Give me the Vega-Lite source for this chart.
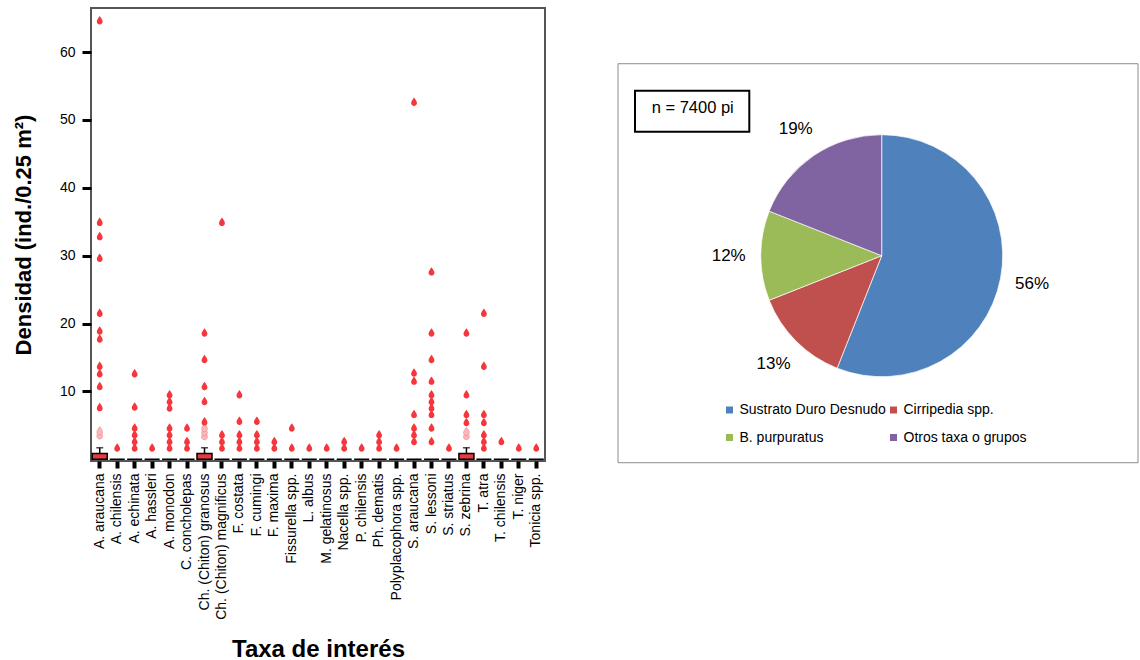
{
  "$schema": "https://vega.github.io/schema/vega-lite/v6.json",
  "background": "white",
  "padding": {"left": 11, "top": 7, "right": 0, "bottom": 0},
  "config": {
    "font": "Liberation Sans",
    "concat": {"spacing": 71},
    "axisX": {"labelAngle": -90, "labelFontSize": 14, "labelColor": "black", "tickSize": 7, "tickWidth": 4, "tickColor": "black", "domain": false, "grid": false, "labelPadding": 5, "titleFontSize": 24, "titleFontWeight": "bold", "titleColor": "black", "titlePadding": 18},
    "axisY": {"labelFontSize": 14, "labelColor": "black", "tickSize": 9, "tickWidth": 3, "tickColor": "black", "domain": false, "grid": false, "labelPadding": 7, "titleFontSize": 22, "titleFontWeight": "bold", "titleColor": "black", "titlePadding": 24}
  },
  "datasets": {
    "pts": [
      {"t": "A. araucana", "v": 64.5}, {"t": "A. araucana", "v": 34.8}, {"t": "A. araucana", "v": 32.7}, {"t": "A. araucana", "v": 29.5}, {"t": "A. araucana", "v": 21.4}, {"t": "A. araucana", "v": 18.8}, {"t": "A. araucana", "v": 17.6}, {"t": "A. araucana", "v": 13.6}, {"t": "A. araucana", "v": 12.5}, {"t": "A. araucana", "v": 10.6}, {"t": "A. araucana", "v": 7.5},
      {"t": "A. chilensis", "v": 1.56},
      {"t": "A. echinata", "v": 12.5}, {"t": "A. echinata", "v": 7.6}, {"t": "A. echinata", "v": 4.5}, {"t": "A. echinata", "v": 3.5}, {"t": "A. echinata", "v": 2.5}, {"t": "A. echinata", "v": 1.56},
      {"t": "A. hassleri", "v": 1.56},
      {"t": "A. monodon", "v": 9.4}, {"t": "A. monodon", "v": 8.4}, {"t": "A. monodon", "v": 7.45}, {"t": "A. monodon", "v": 4.5}, {"t": "A. monodon", "v": 3.5}, {"t": "A. monodon", "v": 2.5}, {"t": "A. monodon", "v": 1.56},
      {"t": "C. concholepas", "v": 4.5}, {"t": "C. concholepas", "v": 2.5}, {"t": "C. concholepas", "v": 1.56},
      {"t": "Ch. (Chiton) granosus", "v": 18.5}, {"t": "Ch. (Chiton) granosus", "v": 14.6}, {"t": "Ch. (Chiton) granosus", "v": 10.6}, {"t": "Ch. (Chiton) granosus", "v": 8.4}, {"t": "Ch. (Chiton) granosus", "v": 5.4},
      {"t": "Ch. (Chiton) magnificus", "v": 34.8}, {"t": "Ch. (Chiton) magnificus", "v": 3.5}, {"t": "Ch. (Chiton) magnificus", "v": 2.5}, {"t": "Ch. (Chiton) magnificus", "v": 1.56},
      {"t": "F. costata", "v": 9.4}, {"t": "F. costata", "v": 5.5}, {"t": "F. costata", "v": 3.5}, {"t": "F. costata", "v": 2.5}, {"t": "F. costata", "v": 1.56},
      {"t": "F. cumingi", "v": 5.5}, {"t": "F. cumingi", "v": 3.5}, {"t": "F. cumingi", "v": 2.5}, {"t": "F. cumingi", "v": 1.56},
      {"t": "F. maxima", "v": 2.5}, {"t": "F. maxima", "v": 1.56},
      {"t": "Fissurella spp.", "v": 4.5}, {"t": "Fissurella spp.", "v": 1.56},
      {"t": "L. albus", "v": 1.56},
      {"t": "M. gelatinosus", "v": 1.56},
      {"t": "Nacella spp.", "v": 2.5}, {"t": "Nacella spp.", "v": 1.56},
      {"t": "P. chilensis", "v": 1.56},
      {"t": "Ph. dematis", "v": 3.5}, {"t": "Ph. dematis", "v": 2.5}, {"t": "Ph. dematis", "v": 1.56},
      {"t": "Polyplacophora spp.", "v": 1.56},
      {"t": "S. araucana", "v": 52.5}, {"t": "S. araucana", "v": 12.6}, {"t": "S. araucana", "v": 11.4}, {"t": "S. araucana", "v": 6.5}, {"t": "S. araucana", "v": 4.5}, {"t": "S. araucana", "v": 3.5}, {"t": "S. araucana", "v": 2.5},
      {"t": "S. lessoni", "v": 27.5}, {"t": "S. lessoni", "v": 18.5}, {"t": "S. lessoni", "v": 14.6}, {"t": "S. lessoni", "v": 11.4}, {"t": "S. lessoni", "v": 9.4}, {"t": "S. lessoni", "v": 8.4}, {"t": "S. lessoni", "v": 7.45}, {"t": "S. lessoni", "v": 6.5}, {"t": "S. lessoni", "v": 4.5}, {"t": "S. lessoni", "v": 2.5},
      {"t": "S. striatus", "v": 1.56},
      {"t": "S. zebrina", "v": 18.5}, {"t": "S. zebrina", "v": 9.4}, {"t": "S. zebrina", "v": 6.5}, {"t": "S. zebrina", "v": 5.3},
      {"t": "T. atra", "v": 21.4}, {"t": "T. atra", "v": 13.6}, {"t": "T. atra", "v": 6.5}, {"t": "T. atra", "v": 5.3}, {"t": "T. atra", "v": 3.5}, {"t": "T. atra", "v": 2.5}, {"t": "T. atra", "v": 1.56},
      {"t": "T. chilensis", "v": 2.5},
      {"t": "T. niger", "v": 1.56},
      {"t": "Tonicia spp.", "v": 1.56}
    ],
    "pale": [
      {"t": "A. araucana", "v": 3.4}, {"t": "A. araucana", "v": 4.0},
      {"t": "Ch. (Chiton) granosus", "v": 3.3}, {"t": "Ch. (Chiton) granosus", "v": 3.9}, {"t": "Ch. (Chiton) granosus", "v": 4.5},
      {"t": "S. zebrina", "v": 3.3}, {"t": "S. zebrina", "v": 3.9}
    ],
    "boxes": [
      {"t": "A. araucana", "q1": 0, "q3": 0.85}, {"t": "A. chilensis", "q1": 0, "q3": 0}, {"t": "A. echinata", "q1": 0, "q3": 0}, {"t": "A. hassleri", "q1": 0, "q3": 0}, {"t": "A. monodon", "q1": 0, "q3": 0}, {"t": "C. concholepas", "q1": 0, "q3": 0}, {"t": "Ch. (Chiton) granosus", "q1": 0, "q3": 0.85}, {"t": "Ch. (Chiton) magnificus", "q1": 0, "q3": 0}, {"t": "F. costata", "q1": 0, "q3": 0}, {"t": "F. cumingi", "q1": 0, "q3": 0}, {"t": "F. maxima", "q1": 0, "q3": 0}, {"t": "Fissurella spp.", "q1": 0, "q3": 0}, {"t": "L. albus", "q1": 0, "q3": 0}, {"t": "M. gelatinosus", "q1": 0, "q3": 0}, {"t": "Nacella spp.", "q1": 0, "q3": 0}, {"t": "P. chilensis", "q1": 0, "q3": 0}, {"t": "Ph. dematis", "q1": 0, "q3": 0}, {"t": "Polyplacophora spp.", "q1": 0, "q3": 0}, {"t": "S. araucana", "q1": 0, "q3": 0}, {"t": "S. lessoni", "q1": 0, "q3": 0}, {"t": "S. striatus", "q1": 0, "q3": 0}, {"t": "S. zebrina", "q1": 0, "q3": 0.85}, {"t": "T. atra", "q1": 0, "q3": 0}, {"t": "T. chilensis", "q1": 0, "q3": 0}, {"t": "T. niger", "q1": 0, "q3": 0}, {"t": "Tonicia spp.", "q1": 0, "q3": 0}
    ],
    "whisk": [
      {"t": "A. araucana", "q3": 0.85, "w": 1.7}, {"t": "Ch. (Chiton) granosus", "q3": 0.85, "w": 1.7}, {"t": "S. zebrina", "q3": 0.85, "w": 1.7}
    ],
    "pie": [
      {"ord": 1, "cat": "Sustrato Duro Desnudo", "pct": 56, "lbl": "56%"},
      {"ord": 2, "cat": "Cirripedia spp.", "pct": 13, "lbl": "13%"},
      {"ord": 3, "cat": "B. purpuratus", "pct": 12, "lbl": "12%"},
      {"ord": 4, "cat": "Otros taxa o grupos", "pct": 19, "lbl": "19%"}
    ],
    "frame": [
      {"x1": 0, "x2": 1, "y1": 0.123, "y2": 1.0038}
    ],
    "note": [
      {"x1": 0.0327, "x2": 0.2525, "y1": 0.1826, "y2": 0.2731, "tx": 0.1437, "ty": 0.2216, "label": "n = 7400 pi"}
    ]
  },
  "hconcat": [
    {
      "width": 454,
      "height": 453,
      "view": {"stroke": "#555555", "strokeWidth": 2},
      "encoding": {
        "x": {
          "field": "t", "type": "nominal", "sort": null, "title": "Taxa de interés",
          "scale": {"paddingInner": 0, "paddingOuter": 0, "domain": ["A. araucana","A. chilensis","A. echinata","A. hassleri","A. monodon","C. concholepas","Ch. (Chiton) granosus","Ch. (Chiton) magnificus","F. costata","F. cumingi","F. maxima","Fissurella spp.","L. albus","M. gelatinosus","Nacella spp.","P. chilensis","Ph. dematis","Polyplacophora spp.","S. araucana","S. lessoni","S. striatus","S. zebrina","T. atra","T. chilensis","T. niger","Tonicia spp."]}
        }
      },
      "layer": [
        {
          "data": {"name": "whisk"},
          "mark": {"type": "rule", "color": "black", "strokeWidth": 1.5},
          "encoding": {
            "y": {"field": "q3", "type": "quantitative", "title": "Densidad (ind./0.25 m²)", "scale": {"domain": [-0.25, 66.5], "nice": false, "zero": false}, "axis": {"values": [10, 20, 30, 40, 50, 60]}},
            "y2": {"field": "w"}
          }
        },
        {
          "data": {"name": "whisk"},
          "mark": {"type": "tick", "color": "black", "orient": "horizontal", "size": 7, "thickness": 1.5},
          "encoding": {
            "y": {"field": "w", "type": "quantitative", "title": "Densidad (ind./0.25 m²)", "scale": {"domain": [-0.25, 66.5], "nice": false, "zero": false}, "axis": {"values": [10, 20, 30, 40, 50, 60]}}
          }
        },
        {
          "data": {"name": "boxes"},
          "mark": {"type": "bar", "fill": "#ea3a40", "stroke": "black", "strokeWidth": 1.5, "size": 15},
          "encoding": {
            "y": {"field": "q1", "type": "quantitative", "title": "Densidad (ind./0.25 m²)", "scale": {"domain": [-0.25, 66.5], "nice": false, "zero": false}, "axis": {"values": [10, 20, 30, 40, 50, 60]}},
            "y2": {"field": "q3"}
          }
        },
        {
          "data": {"name": "pale"},
          "mark": {"type": "point", "shape": "M0,-1.9 C0.5,-1.2 1,-0.6 1,0 A1,1 0 1,1 -1,0 C-1,-0.6 -0.5,-1.2 0,-1.9 Z", "size": 34, "filled": true, "fill": "#f8b8bb", "stroke": "#f27c82", "strokeWidth": 0.5, "opacity": 1},
          "encoding": {
            "y": {"field": "v", "type": "quantitative", "title": "Densidad (ind./0.25 m²)", "scale": {"domain": [-0.25, 66.5], "nice": false, "zero": false}, "axis": {"values": [10, 20, 30, 40, 50, 60]}}
          }
        },
        {
          "data": {"name": "pts"},
          "mark": {"type": "point", "shape": "M0,-1.9 C0.5,-1.2 1,-0.6 1,0 A1,1 0 1,1 -1,0 C-1,-0.6 -0.5,-1.2 0,-1.9 Z", "size": 34, "filled": true, "color": "#f5363d", "opacity": 1},
          "encoding": {
            "y": {"field": "v", "type": "quantitative", "title": "Densidad (ind./0.25 m²)", "scale": {"domain": [-0.25, 66.5], "nice": false, "zero": false}, "axis": {"values": [10, 20, 30, 40, 50, 60]}}
          }
        }
      ]
    },
    {
      "width": 520,
      "height": 453,
      "view": {"stroke": null},
      "layer": [
        {
          "data": {"name": "frame"},
          "mark": {"type": "rect", "fill": "white", "stroke": "#8c8c8c", "strokeWidth": 1},
          "encoding": {
            "x": {"field": "x1", "type": "quantitative", "scale": {"domain": [0, 1], "nice": false, "zero": false}, "axis": null},
            "x2": {"field": "x2"},
            "y": {"field": "y1", "type": "quantitative", "scale": {"domain": [0, 1], "nice": false, "zero": false, "reverse": true}, "axis": null},
            "y2": {"field": "y2"}
          }
        },
        {
          "data": {"name": "note"},
          "mark": {"type": "rect", "fill": "white", "stroke": "black", "strokeWidth": 2},
          "encoding": {
            "x": {"field": "x1", "type": "quantitative", "axis": null},
            "x2": {"field": "x2"},
            "y": {"field": "y1", "type": "quantitative", "axis": null},
            "y2": {"field": "y2"}
          }
        },
        {
          "data": {"name": "note"},
          "mark": {"type": "text", "fontSize": 16.5, "color": "black", "align": "center", "baseline": "middle"},
          "encoding": {
            "x": {"field": "tx", "type": "quantitative", "axis": null},
            "y": {"field": "ty", "type": "quantitative", "axis": null},
            "text": {"field": "label"}
          }
        },
        {
          "data": {"name": "pie"},
          "mark": {"type": "arc", "outerRadius": 121, "stroke": "white", "strokeWidth": 0.7},
          "encoding": {
            "x": {"datum": 0.5071, "type": "quantitative", "axis": null},
            "y": {"datum": 0.5468, "type": "quantitative", "axis": null},
            "theta": {"field": "pct", "type": "quantitative", "stack": true},
            "order": {"field": "ord", "type": "quantitative"},
            "color": {
              "field": "cat", "type": "nominal",
              "scale": {"domain": ["Sustrato Duro Desnudo", "Cirripedia spp.", "B. purpuratus", "Otros taxa o grupos"], "range": ["#4f81bd", "#c0504d", "#9bbb59", "#8064a2"]},
              "legend": {"orient": "none", "legendX": 631.5, "legendY": 395, "direction": "horizontal", "columns": 2, "title": null, "symbolType": "square", "symbolSize": 49, "symbolStrokeWidth": 0, "labelFontSize": 14, "labelColor": "black", "labelOffset": 3, "columnPadding": 0, "rowPadding": 13.5, "padding": 0}
            }
          }
        },
        {
          "data": {"name": "pie"},
          "mark": {"type": "text", "radius": 153, "fontSize": 17, "color": "black", "align": "center", "baseline": "middle"},
          "encoding": {
            "x": {"datum": 0.5071, "type": "quantitative", "axis": null},
            "y": {"datum": 0.5468, "type": "quantitative", "axis": null},
            "theta": {"field": "pct", "type": "quantitative", "stack": true},
            "order": {"field": "ord", "type": "quantitative"},
            "text": {"field": "lbl"}
          }
        }
      ]
    }
  ]
}
